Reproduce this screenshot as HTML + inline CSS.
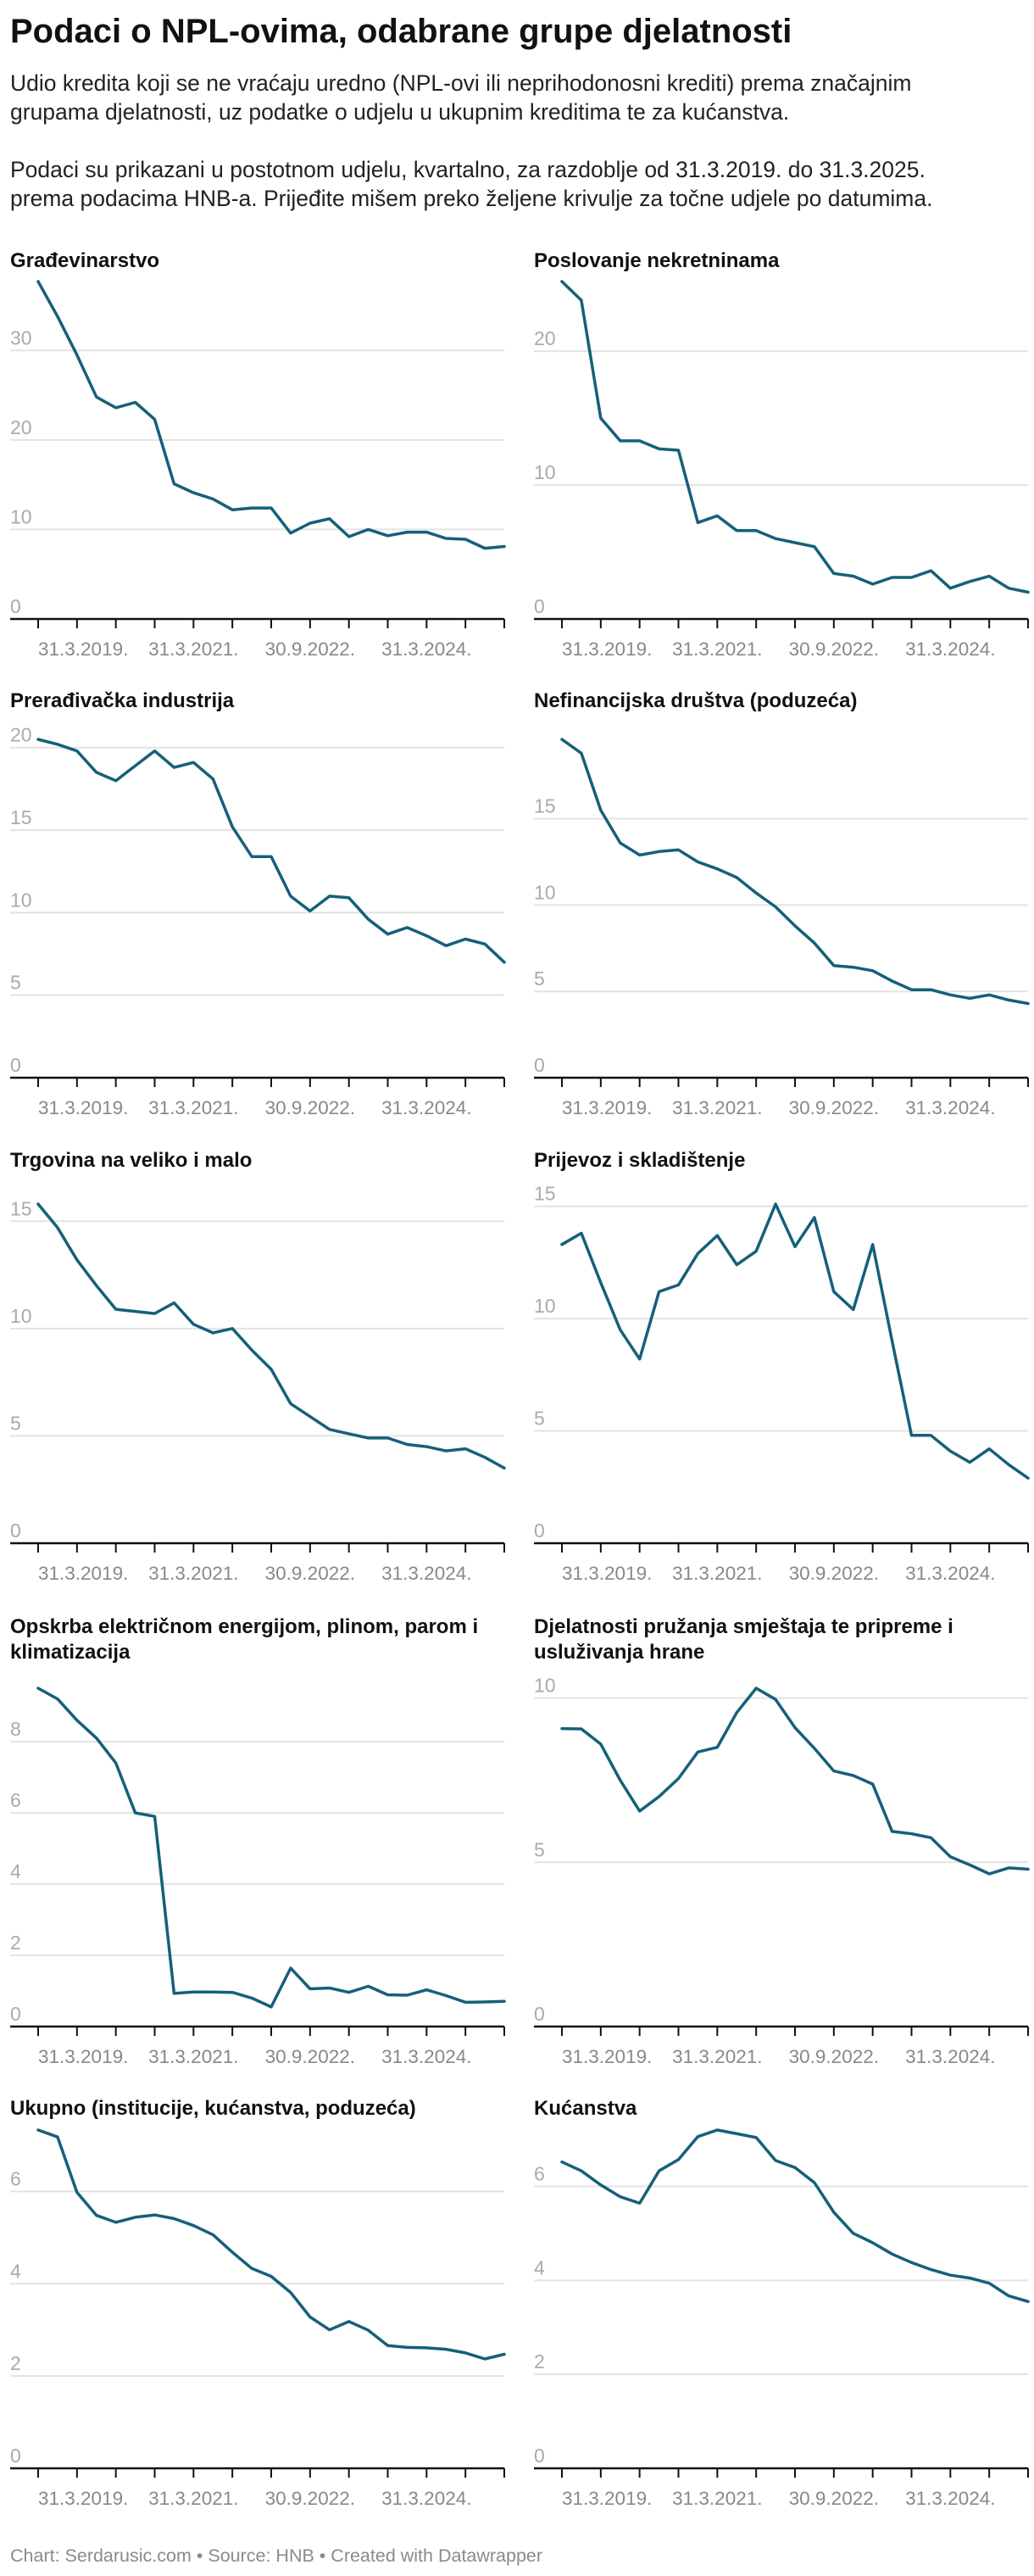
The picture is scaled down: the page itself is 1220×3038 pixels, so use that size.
<!DOCTYPE html>
<html><head><meta charset="utf-8">
<style>
html,body{margin:0;padding:0;background:#fff;}
body{width:1220px;height:3038px;position:relative;overflow:hidden;font-family:"Liberation Sans",Arial,sans-serif;}
#title{position:absolute;left:12px;top:12px;margin:0;font-size:40px;font-weight:bold;color:#111;white-space:nowrap;line-height:50px;}
.sub{position:absolute;left:12px;font-size:26.5px;color:#222;line-height:34px;white-space:nowrap;margin:0;}
#chart{position:absolute;left:0;top:0;}
</style></head>
<body>
<h1 id="title">Podaci o NPL-ovima, odabrane grupe djelatnosti</h1>
<p class="sub" style="top:81px">Udio kredita koji se ne vraćaju uredno (NPL-ovi ili neprihodonosni krediti) prema značajnim<br>grupama djelatnosti, uz podatke o udjelu u ukupnim kreditima te za kućanstva.</p>
<p class="sub" style="top:183px">Podaci su prikazani u postotnom udjelu, kvartalno, za razdoblje od 31.3.2019. do 31.3.2025.<br>prema podacima HNB-a. Prijeđite mišem preko željene krivulje za točne udjele po datumima.</p>
<svg id="chart" width="1220" height="3038" xmlns="http://www.w3.org/2000/svg"></svg>
<script>
const quarters = 25;
const xTickLabels = ["31.3.2019.","31.3.2021.","30.9.2022.","31.3.2024."];
const xTickLabelIndex = [0,8,14,20];
const titles = [
 ["Građevinarstvo"],["Poslovanje nekretninama"],
 ["Prerađivačka industrija"],["Nefinancijska društva (poduzeća)"],
 ["Trgovina na veliko i malo"],["Prijevoz i skladištenje"],
 ["Opskrba električnom energijom, plinom, parom i","klimatizacija"],["Djelatnosti pružanja smještaja te pripreme i","usluživanja hrane"],
 ["Ukupno (institucije, kućanstva, poduzeća)"],["Kućanstva"]
];
const yTicks = [[0,10,20,30],[0,10,20],[0,5,10,15,20],[0,5,10,15],[0,5,10,15],[0,5,10,15],[0,2,4,6,8],[0,5,10],[0,2,4,6],[0,2,4,6]];
const gradevinarstvo = [37.7,33.8,29.5,24.8,23.6,24.2,22.3,15.1,14.1,13.4,12.2,12.4,12.4,9.6,10.7,11.2,9.2,10.0,9.3,9.7,9.7,9.0,8.9,7.9,8.1];
const nekretnine = [25.2,23.8,15.0,13.3,13.3,12.7,12.6,7.2,7.7,6.6,6.6,6.0,5.7,5.4,3.4,3.2,2.6,3.1,3.1,3.6,2.3,2.8,3.2,2.3,2.0];
const preradivacka = [20.5,20.2,19.8,18.5,18.0,18.9,19.8,18.8,19.1,18.1,15.2,13.4,13.4,11.0,10.1,11.0,10.9,9.6,8.7,9.1,8.6,8.0,8.4,8.1,7.0];
const nefinancijska = [19.6,18.8,15.5,13.6,12.9,13.1,13.2,12.5,12.1,11.6,10.7,9.9,8.8,7.8,6.5,6.4,6.2,5.6,5.1,5.1,4.8,4.6,4.8,4.5,4.3];
const trgovina = [15.8,14.7,13.2,12.0,10.9,10.8,10.7,11.2,10.2,9.8,10.0,9.0,8.1,6.5,5.9,5.3,5.1,4.9,4.9,4.6,4.5,4.3,4.4,4.0,3.5];
const prijevoz = [13.3,13.8,11.6,9.5,8.2,11.2,11.5,12.9,13.7,12.4,13.0,15.1,13.2,14.5,11.2,10.4,13.3,9.0,4.8,4.8,4.1,3.6,4.2,3.5,2.9];
const opskrba = [9.5,9.2,8.6,8.1,7.4,6.0,5.9,0.93,0.97,0.97,0.96,0.8,0.55,1.64,1.06,1.08,0.96,1.13,0.89,0.88,1.03,0.87,0.68,0.69,0.71];
const smjestaj = [9.07,9.06,8.6,7.5,6.56,7.0,7.55,8.36,8.5,9.56,10.3,9.96,9.1,8.47,7.78,7.64,7.38,5.94,5.87,5.75,5.17,4.92,4.65,4.83,4.79];
const ukupno = [7.33,7.18,5.98,5.48,5.33,5.44,5.49,5.41,5.26,5.06,4.68,4.33,4.16,3.81,3.28,3.0,3.18,2.99,2.66,2.62,2.61,2.58,2.5,2.37,2.47];
const kucanstva = [6.52,6.33,6.03,5.78,5.64,6.33,6.57,7.06,7.2,7.12,7.04,6.55,6.4,6.08,5.45,5.0,4.8,4.56,4.38,4.23,4.11,4.05,3.94,3.67,3.55];
const series = [gradevinarstvo,nekretnine,preradivacka,nefinancijska,trgovina,prijevoz,opskrba,smjestaj,ukupno,kucanstva];
const names = ["gradevinarstvo","poslovanje-nekretninama","preradivacka-industrija","nefinancijska-drustva","trgovina","prijevoz","opskrba-energijom","smjestaj-hrana","ukupno","kucanstva"];

const NS="http://www.w3.org/2000/svg";
const svg=document.getElementById('chart');
const colX=[12,630], panelW=583;
const rowAxis=[730,1271,1820,2390,2911];
const rowTop=[332,872,1420,1991,2512];
const rowTitle=[315,834,1376,1926,2494];
function mk(tag,attrs,parent){const e=document.createElementNS(NS,tag);for(const k in attrs)e.setAttribute(k,attrs[k]);(parent||svg).appendChild(e);return e;}

series.forEach((vals,c)=>{
  const row=Math.floor(c/2), col=c%2;
  const x0=colX[col], x1=x0+panelW, first=x0+33;
  const axisY=rowAxis[row], topY=rowTop[row];
  const vmax=Math.max(...vals);
  const xs=i=>first+(x1-first)*i/(quarters-1);
  const ys=v=>axisY-(axisY-topY)*v/vmax;
  const g=mk('g',{});
  
  
  titles[c].forEach((t,k)=>{
    const tt=mk('text',{x:x0,y:rowTitle[row]+k*30,'font-size':24,'font-weight':'bold',fill:'#111'},g);
    tt.textContent=t;
    
    
  });
  yTicks[c].forEach(v=>{
    const y=ys(v);
    if(v>0){
      const gl=mk('line',{x1:x0,x2:x1,y1:y,y2:y,stroke:'#e3e3e3','stroke-width':2},g);
      
      
    }
    const lb=mk('text',{x:x0,y:y-7,'font-size':23,fill:'#aaaaaa'},g);
    lb.textContent=v;
    
    
  });
  const ax=mk('line',{x1:x0,x2:x1,y1:axisY,y2:axisY,stroke:'#111','stroke-width':2.5},g);
  
  
  for(let i=0;i<quarters;i+=2){
    const tk=mk('line',{x1:xs(i),x2:xs(i),y1:axisY,y2:axisY+11,stroke:'#111','stroke-width':2},g);
    
    
  }
  xTickLabels.forEach((t,k)=>{
    const idx=xTickLabelIndex[k];
    const lb=mk('text',{x:xs(idx),y:axisY+43,'font-size':22.5,fill:'#888888','text-anchor':idx===0?'start':'middle'},g);
    lb.textContent=t;
    
    
  });
  const pts=vals.map((v,i)=>xs(i).toFixed(1)+','+ys(v).toFixed(1)).join(' ');
  const pl=mk('polyline',{points:pts,fill:'none',stroke:'#15607a','stroke-width':3.5,'stroke-linejoin':'round','stroke-linecap':'round'},g);
  
  
});
const ft=mk('text',{x:12,y:3021,'font-size':21.5,fill:'#8a8a8a'});
ft.textContent='Chart: Serdarusic.com • Source: HNB • Created with Datawrapper';


</script>
</body></html>
